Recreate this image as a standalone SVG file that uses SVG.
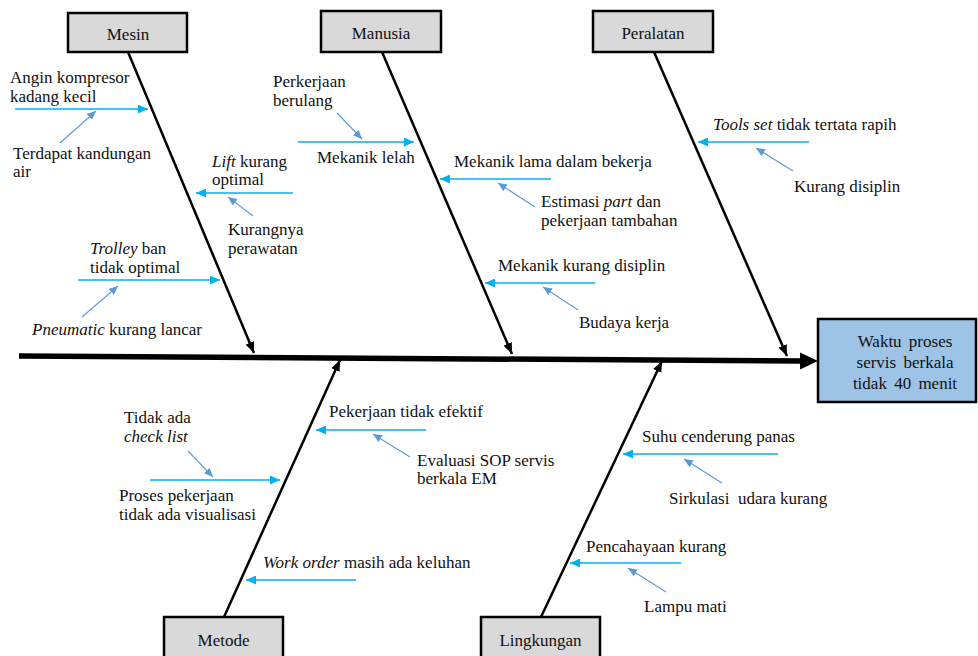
<svg xmlns="http://www.w3.org/2000/svg" width="978" height="656" viewBox="0 0 978 656">
<defs>
<style>
text{font-family:'Liberation Serif','Times New Roman',serif;font-size:17px;fill:#111}
.c{text-anchor:middle}
.i{font-style:italic}
.box{fill:#D9D9D9;stroke:#000;stroke-width:2.5}
.bone{stroke:#000;stroke-width:2.5;fill:none;marker-end:url(#ab)}
.cause{stroke:#00B0F0;stroke-width:1.6;fill:none;marker-end:url(#ac)}
.sub{stroke:#5B9BD5;stroke-width:1.1;fill:none;marker-end:url(#as)}
</style>
<marker id="ac" markerUnits="userSpaceOnUse" markerWidth="10" markerHeight="9" refX="10" refY="4.5" orient="auto"><path d="M0,0 L10,4.5 L0,9 z" fill="#00B0F0"/></marker>
<marker id="as" markerUnits="userSpaceOnUse" markerWidth="9" markerHeight="8" refX="9" refY="4" orient="auto"><path d="M0,0 L9,4 L0,8 z" fill="#5B9BD5"/></marker>
<marker id="ab" markerUnits="userSpaceOnUse" markerWidth="11" markerHeight="9" refX="11" refY="4.5" orient="auto"><path d="M0,0 L11,4.5 L0,9 z" fill="#000"/></marker>
</defs>
<rect width="978" height="656" fill="#fff"/>

<g id="connectors">
<line x1="19" y1="356" x2="803" y2="361" stroke="#000" stroke-width="5.5"/>
<polygon points="800,352.5 818,361 800,369.5" fill="#000"/>
<line class="bone" x1="128" y1="52" x2="254" y2="353"/>
<line class="bone" x1="382" y1="52" x2="512" y2="354"/>
<line class="bone" x1="654" y1="52" x2="787" y2="356"/>
<line class="bone" x1="224" y1="617" x2="340" y2="360"/>
<line class="bone" x1="541" y1="617" x2="662" y2="361"/>
</g>

<g id="head">
<rect x="818" y="319" width="158" height="83" fill="#9DC3E6" stroke="#000" stroke-width="2.5"/>
<text class="c" x="905" y="347" word-spacing="3">Waktu proses</text>
<text class="c" x="905" y="368" word-spacing="3">servis berkala</text>
<text class="c" x="905" y="389" word-spacing="3">tidak 40 menit</text>
</g>

<g id="mesin">
<rect class="box" x="68" y="13" width="119" height="39"/>
<text class="c" x="128" y="40">Mesin</text>
</g>
<g id="manusia">
<rect class="box" x="321" y="11" width="120" height="41"/>
<text class="c" x="381" y="39">Manusia</text>
</g>
<g id="peralatan">
<rect class="box" x="593" y="11" width="120" height="41"/>
<text class="c" x="653" y="39">Peralatan</text>
</g>
<g id="metode">
<rect class="box" x="164" y="617" width="119" height="50"/>
<text class="c" x="223.5" y="646">Metode</text>
</g>
<g id="lingkungan">
<rect class="box" x="481" y="617" width="119" height="50"/>
<text class="c" x="540.5" y="646">Lingkungan</text>
</g>

<g id="cause-angin">
<text x="10" y="83">Angin kompresor</text>
<text x="10" y="102">kadang kecil</text>
<line class="cause" x1="15" y1="109" x2="148" y2="109"/>
<line class="sub" x1="60" y1="143" x2="96" y2="111"/>
<text x="13" y="159">Terdapat kandungan</text>
<text x="13" y="177">air</text>
</g>
<g id="cause-lift">
<text x="212" y="167"><tspan class="i">Lift</tspan> kurang</text>
<text x="212" y="185">optimal</text>
<line class="cause" x1="293" y1="193" x2="196" y2="193"/>
<line class="sub" x1="253" y1="216" x2="228" y2="197"/>
<text x="228" y="235">Kurangnya</text>
<text x="228" y="254">perawatan</text>
</g>
<g id="cause-trolley">
<text x="90" y="254"><tspan class="i">Trolley</tspan> ban</text>
<text x="90" y="273">tidak optimal</text>
<line class="cause" x1="78" y1="280" x2="220" y2="280"/>
<line class="sub" x1="82" y1="317" x2="118" y2="286"/>
<text x="32" y="335"><tspan class="i">Pneumatic</tspan> kurang lancar</text>
</g>

<g id="cause-lelah">
<text x="273" y="87">Perkerjaan</text>
<text x="273" y="106">berulang</text>
<line class="sub" x1="337" y1="113" x2="362" y2="139"/>
<line class="cause" x1="298" y1="142" x2="414" y2="142"/>
<text x="317" y="163">Mekanik lelah</text>
</g>
<g id="cause-lama">
<text x="454" y="167">Mekanik lama dalam bekerja</text>
<line class="cause" x1="551" y1="179" x2="440" y2="179"/>
<line class="sub" x1="535" y1="207" x2="498" y2="183"/>
<text x="541" y="207">Estimasi <tspan class="i">part</tspan> dan</text>
<text x="541" y="226">pekerjaan tambahan</text>
</g>
<g id="cause-disiplin">
<text x="498" y="271">Mekanik kurang disiplin</text>
<line class="cause" x1="595" y1="283" x2="485" y2="283"/>
<line class="sub" x1="578" y1="310" x2="543" y2="287"/>
<text x="579" y="328">Budaya kerja</text>
</g>

<g id="cause-tools">
<text x="713" y="130"><tspan class="i">Tools set</tspan> tidak tertata rapih</text>
<line class="cause" x1="809" y1="142" x2="698" y2="142"/>
<line class="sub" x1="793" y1="171" x2="756" y2="148"/>
<text x="794" y="192">Kurang disiplin</text>
</g>

<g id="cause-visualisasi">
<text x="124" y="423">Tidak ada</text>
<text x="124" y="442" class="i">check list</text>
<line class="sub" x1="188" y1="451" x2="213" y2="477"/>
<line class="cause" x1="150" y1="480" x2="280" y2="480"/>
<text x="119" y="501">Proses pekerjaan</text>
<text x="119" y="520">tidak ada visualisasi</text>
</g>
<g id="cause-efektif">
<text x="329" y="417">Pekerjaan tidak efektif</text>
<line class="cause" x1="426" y1="430" x2="316" y2="430"/>
<line class="sub" x1="410" y1="457" x2="373" y2="434"/>
<text x="417" y="466">Evaluasi SOP servis</text>
<text x="417" y="484">berkala EM</text>
</g>
<g id="cause-workorder">
<text x="263" y="568"><tspan class="i">Work order</tspan> masih ada keluhan</text>
<line class="cause" x1="356" y1="580" x2="246" y2="580"/>
</g>

<g id="cause-suhu">
<text x="642" y="442">Suhu cenderung panas</text>
<line class="cause" x1="778" y1="454" x2="623" y2="454"/>
<line class="sub" x1="722" y1="483" x2="684" y2="459"/>
<text x="669" y="504" xml:space="preserve">Sirkulasi  udara kurang</text>
</g>
<g id="cause-cahaya">
<text x="586" y="552">Pencahayaan kurang</text>
<line class="cause" x1="681" y1="563" x2="570" y2="563"/>
<line class="sub" x1="666" y1="592" x2="628" y2="568"/>
<text x="644" y="612">Lampu mati</text>
</g>
</svg>
